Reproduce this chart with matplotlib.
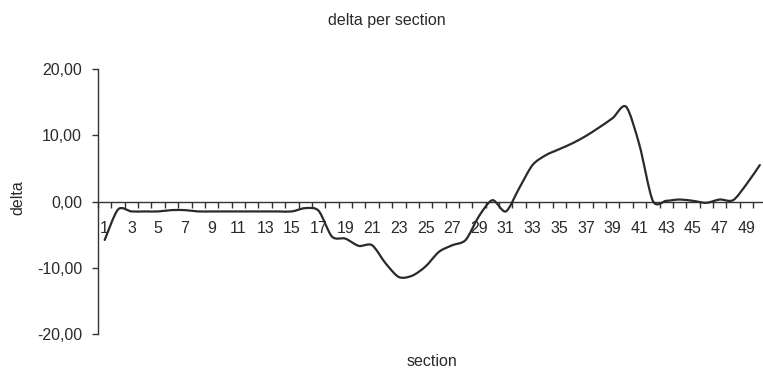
import matplotlib
matplotlib.use("Agg")
import matplotlib.pyplot as plt
from matplotlib.path import Path
from matplotlib.patches import PathPatch
from matplotlib.ticker import FixedLocator, FuncFormatter
import numpy as np

plt.rcParams['font.family'] = ['Liberation Sans', 'DejaVu Sans']

sections = list(range(1, 51))
delta = [-5.8, -1.2, -1.5, -1.5, -1.5, -1.3, -1.3, -1.5, -1.5, -1.5,
         -1.5, -1.5, -1.5, -1.5, -1.5, -1.0, -1.4, -5.3, -5.6, -6.7,
         -6.6, -9.3, -11.4, -11.2, -9.8, -7.6, -6.6, -5.8, -2.2, 0.2,
         -1.5, 2.0, 5.5, 7.0, 7.9, 8.8, 9.9, 11.2, 12.6, 14.3,
         8.5, 0.1, 0.1, 0.3, 0.1, -0.2, 0.3, 0.2, 2.6, 5.5]
y_ticks = [-20, -10, 0, 10, 20]
x_label_ticks = list(range(1, 50, 2))

title = "delta per section"
xlabel = "section"
ylabel = "delta"

W, H = 763, 374
fig = plt.figure(figsize=(W / 100, H / 100), dpi=100)
left, right = 98, 766.5
top, bottom = 69, 334
ax = fig.add_axes([left / W, (H - bottom) / H, (right - left) / W, (bottom - top) / H])
ax.set_xlim(0.5, 50.5)
ax.set_ylim(-20, 20)

# Excel-style smoothed line (Bezier through data points)
x = np.array(sections, dtype=float)
y = np.array(delta, dtype=float)
pts = np.column_stack([x, y])
n = len(pts)
k = 1.0 / 7.0
verts = [pts[0]]
codes = [Path.MOVETO]
for i in range(n - 1):
    p0 = pts[i - 1] if i > 0 else pts[i]
    p1 = pts[i]
    p2 = pts[i + 1]
    p3 = pts[i + 2] if i + 2 < n else pts[i + 1]
    c1 = p1 + (p2 - p0) * k
    c2 = p2 - (p3 - p1) * k
    verts += [c1, c2, p2]
    codes += [Path.CURVE4] * 3
path = Path(verts, codes)
ax.add_patch(PathPatch(path, fill=False, edgecolor='#2a2a2a', lw=1.6,
                       joinstyle='round', capstyle='round', zorder=3))

axis_color = '#333333'
text_color = '#2a2a2a'
fs = 11.5

for s in ['top', 'right']:
    ax.spines[s].set_visible(False)
ax.spines['bottom'].set_position(('data', 0))
ax.spines['bottom'].set_color(axis_color)
ax.spines['left'].set_color(axis_color)
ax.spines['bottom'].set_linewidth(1.0)
ax.spines['left'].set_linewidth(1.0)

ax.xaxis.set_major_locator(FixedLocator(x_label_ticks))
ax.xaxis.set_minor_locator(FixedLocator(np.arange(0.5, 51.0, 1.0)))
ax.tick_params(axis='x', which='major', length=0, pad=14, labelsize=fs, labelcolor=text_color)
ax.tick_params(axis='x', which='minor', length=4.5, width=1.0, color=axis_color, direction='out')

ax.yaxis.set_major_locator(FixedLocator(y_ticks))
ax.yaxis.set_major_formatter(FuncFormatter(lambda v, p: f"{v:.2f}".replace('.', ',')))
ax.tick_params(axis='y', which='major', length=4.5, width=1.0, color=axis_color,
               direction='out', pad=7, labelsize=fs, labelcolor=text_color)

fig.text(386.5 / W, 1 - 20 / H, title, ha='center', va='center', fontsize=fs, color=text_color)
fig.text(432 / W, 1 - 361 / H, xlabel, ha='center', va='center', fontsize=fs, color=text_color)
fig.text(18 / W, 1 - 198 / H, ylabel, ha='center', va='center', rotation=90, fontsize=fs, color=text_color)

fig.savefig("out.png", dpi=100)
